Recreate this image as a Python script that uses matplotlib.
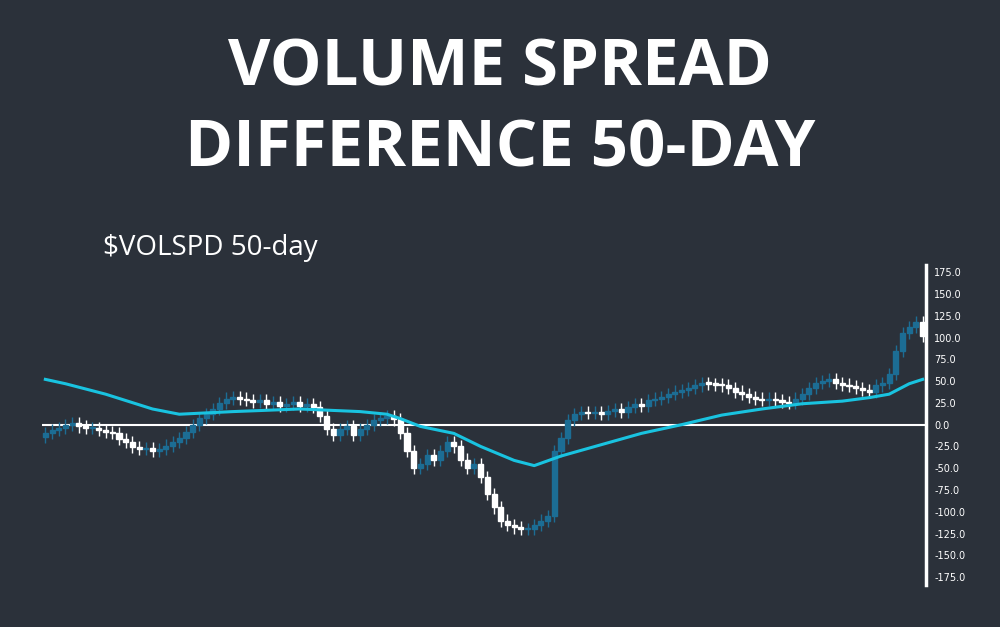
import matplotlib.pyplot as plt
from matplotlib.patches import Rectangle

# closing values of $VOLSPD
closes = [-10, -6, -4, 0, 2,
          -2, -4, -4, -6, -8,
          -10, -16, -20, -26, -28, -27, -30,
          -28, -24, -20, -15, -8,
          0, 8, 12, 18, 25, 30,
          32, 30, 28, 26, 28, 24, 26, 22, 24, 26, 22,
          24, 20,
          10, -5, -12,
          -5, -2, -12, -5,
          0, 5, 8, 10, 6,
          -10, -30, -50,
          -45, -35,
          -40, -30, -20, -25,
          -40, -50, -45,
          -60, -80, -95, -110,
          -115, -118, -120, -120,
          -115, -110, -105,
          -30,
          -15, 5, 12,
          15, 13, 14, 12, 16, 18, 15,
          20, 24, 22, 28, 30, 32, 35, 38, 40,
          42, 45, 48, 47, 46, 45,
          42, 38, 35, 32, 30, 28, 30,
          28, 26, 25, 30,
          35, 42, 48, 50, 52,
          48, 46, 44, 42, 40, 38,
          45, 48, 58,
          85, 105, 112, 118, 102]
first_open = -14

# 50-day moving average, sampled at candle indices
ma_idx = [0, 3, 9, 16, 20, 28, 38, 47, 51, 53, 56, 61, 65, 70, 73, 77, 83, 89, 95, 101, 107, 113, 119, 123, 126, 129, 131]
ma_val = [52, 47, 35, 18, 12, 15, 18, 15, 12, 7, -2, -10, -25, -41, -47, -36, -23, -10, 0, 11, 18, 24, 27, 31, 35, 47, 52]

wick = 7
bg = '#2b313a'
blue = '#1c6d94'

fig = plt.figure(figsize=(10, 6.27), dpi=100, facecolor=bg)
fig.text(0.5, 0.89, 'VOLUME SPREAD', ha='center', va='center', color='white',
         fontsize=47, fontweight='bold', family='Open Sans')
fig.text(0.5, 0.76, 'DIFFERENCE 50-DAY', ha='center', va='center', color='white',
         fontsize=47, fontweight='bold', family='Open Sans')
fig.text(0.103, 0.604, '$VOLSPD 50-day', ha='left', va='center', color='white',
         fontsize=20, family='Open Sans')

ax = fig.add_axes([0.042, 0.067, 0.884, 0.51], facecolor=bg)
opens = [first_open] + closes[:-1]
for i, (o, c) in enumerate(zip(opens, closes)):
    col = blue if c >= o else 'white'
    lo, hi = min(o, c), max(o, c)
    ax.vlines(i, lo - wick, hi + wick, color=col, lw=1, zorder=2)
    ax.add_patch(Rectangle((i - 0.38, lo), 0.76, max(hi - lo, 1.5), color=col, zorder=3))

ax.axhline(0, color='white', lw=1.5, zorder=1)
ax.plot(ma_idx, ma_val, color='#19c3e0', lw=2.2, zorder=4)

ax.set_xlim(-0.5, len(closes) - 0.5)
ax.set_ylim(-184, 183)
ax.set_yticks(range(-175, 176, 25))
ax.set_yticklabels([f'{v:.1f}' for v in range(-175, 176, 25)])
ax.yaxis.tick_right()
ax.tick_params(axis='y', colors='white', labelsize=7, length=0, pad=6)
ax.set_xticks([])
for s in ['top', 'bottom', 'left']:
    ax.spines[s].set_visible(False)
ax.spines['right'].set_color('white')
ax.spines['right'].set_linewidth(2.5)

fig.savefig('out.png', facecolor=bg)
